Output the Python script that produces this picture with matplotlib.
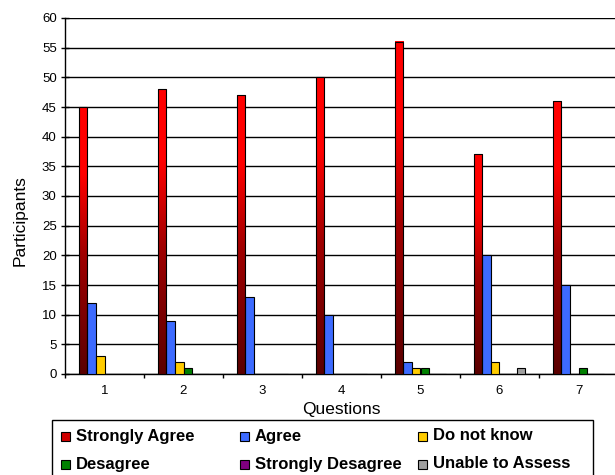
import numpy as np
import matplotlib.pyplot as plt
from matplotlib.colors import LinearSegmentedColormap
from matplotlib.patches import Rectangle

plt.rcParams['font.family'] = ['Liberation Sans', 'DejaVu Sans']

questions = ['1', '2', '3', '4', '5', '6', '7']
series = ['Strongly Agree', 'Agree', 'Do not know', 'Desagree',
          'Strongly Desagree', 'Unable to Assess']
strongly_agree = [45, 48, 47, 50, 56, 37, 46]
agree = [12, 9, 13, 10, 2, 20, 15]
do_not_know = [3, 2, 0, 0, 1, 2, 0]
desagree = [0, 1, 0, 0, 1, 0, 1]
strongly_desagree = [0, 0, 0, 0, 0, 0, 0]
unable = [0, 0, 0, 0, 0, 1, 0]
colors = ['#ff0000', '#3d6bff', '#ffcc00', '#008000', '#800080', '#a0a0a0']

values = [strongly_agree, agree, do_not_know, desagree, strongly_desagree, unable]

fig = plt.figure(figsize=(6.15, 4.75), dpi=100)
ax = fig.add_axes([65/615, 101/475, 553/615, 356/475])

red_fade = LinearSegmentedColormap.from_list(
    'red_fade', [(0, '#5a0000'), (0.45, '#a00000'), (0.75, '#ff0000'), (1, '#ff0000')])

w = 0.108
x = np.arange(len(questions))
for i, (name, vals, c) in enumerate(zip(series, values, colors)):
    xs = x + 0.5 + (i - 2.5) * w
    bars = ax.bar(xs, vals, width=w, color=c, edgecolor='black',
                  linewidth=0.8, zorder=3)
    if i == 0:
        # vertical fade inside each red bar
        for b in bars:
            x0, h = b.get_x(), b.get_height()
            grad = np.linspace(0, 1, 256).reshape(-1, 1)
            ax.imshow(grad, cmap=red_fade, origin='lower', aspect='auto',
                      extent=[x0, x0 + w, 0, h], zorder=3)
            b.set_facecolor('none')
            b.set_zorder(4)

ax.set_xlim(0, len(questions))
ax.set_ylim(0, 60)
ax.set_yticks(range(0, 61, 5))
ax.yaxis.grid(True, color='black', linewidth=1.0)
ax.set_axisbelow(True)

ax.set_xticks(np.arange(0, len(questions) + 1))
ax.set_xticklabels([])
ax.set_xticks(x + 0.5, minor=True)
ax.set_xticklabels(questions, minor=True)
ax.tick_params(axis='x', which='major', direction='out', length=3, width=1)
ax.tick_params(axis='x', which='minor', length=0, pad=8, labelsize=9.5)
ax.tick_params(axis='y', direction='inout', length=6, width=1, labelsize=9.5, pad=3)

for s in ['top', 'right']:
    ax.spines[s].set_visible(False)
for s in ['left', 'bottom']:
    ax.spines[s].set_color('black')
    ax.spines[s].set_linewidth(1.0)

ax.set_xlabel('Questions', fontsize=12.5, labelpad=3.5)
ax.set_ylabel('Participants', fontsize=12.5)
ax.yaxis.set_label_coords(-0.068, 0.43)

# legend box drawn in pixel coordinates over the whole figure
lg = fig.add_axes([0, 0, 1, 1])
lg.set_xlim(0, 615)
lg.set_ylim(475, 0)
lg.axis('off')
lg.add_patch(Rectangle((52, 420), 541, 60, facecolor='white', edgecolor='black', linewidth=1.0))
col_x = [61, 240, 418]
row_y = [436, 464]
for k, (name, c) in enumerate(zip(series, colors)):
    cx = col_x[k % 3]
    ry = row_y[k // 3]
    fc = '#d00000' if k == 0 else c
    lg.add_patch(Rectangle((cx, ry - 4.5), 9, 9, facecolor=fc, edgecolor='black', linewidth=0.8))
    lg.text(cx + 15, ry, name, fontsize=12, fontweight='bold', ha='left', va='center')

fig.savefig('out.png', dpi=100)
